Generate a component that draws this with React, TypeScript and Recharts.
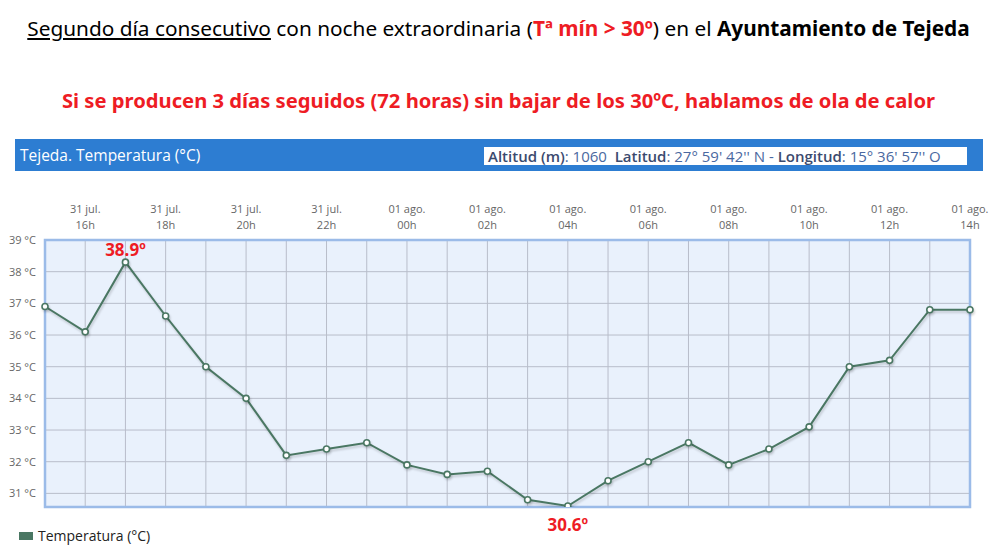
import React from 'react';
import { LineChart, Line, XAxis, YAxis, CartesianGrid, ReferenceArea, ReferenceDot } from 'recharts';

const hours = ['15h', '16h', '17h', '18h', '19h', '20h', '21h', '22h', '23h', '00h', '01h', '02h', '03h', '04h', '05h', '06h', '07h', '08h', '09h', '10h', '11h', '12h', '13h', '14h'];
const days = ['31 jul.', '31 jul.', '31 jul.', '31 jul.', '31 jul.', '31 jul.', '31 jul.', '31 jul.', '31 jul.', '01 ago.', '01 ago.', '01 ago.', '01 ago.', '01 ago.', '01 ago.', '01 ago.', '01 ago.', '01 ago.', '01 ago.', '01 ago.', '01 ago.', '01 ago.', '01 ago.', '01 ago.'];
const temps = [36.9, 36.1, 38.3, 36.6, 35.0, 34.0, 32.2, 32.4, 32.6, 31.9, 31.6, 31.7, 30.8, 30.6, 31.4, 32.0, 32.6, 31.9, 32.4, 33.1, 35.0, 35.2, 36.8, 36.8];
const yTicks = [31, 32, 33, 34, 35, 36, 37, 38, 39];
const maxNote = { hour: '17h', value: 38.3, text: '38.9º' };
const minNote = { hour: '04h', value: 30.6, text: '30.6º' };

const data = hours.map((h, i) => ({ hour: h, day: days[i], temp: temps[i] }));

const LINE = '#4a7763';
const Y_MIN = 30.57;
const Y_MAX = 39;

const HourTick = (props) => {
  const { x, y, index } = props;
  if (index % 2 === 0) return <g />;
  return (
    <g>
      <text x={x} y={y - 19} textAnchor="middle" fontSize={11} fill="#666" fontFamily="'Open Sans', sans-serif">{days[index]}</text>
      <text x={x} y={y - 3} textAnchor="middle" fontSize={11} fill="#666" fontFamily="'Open Sans', sans-serif">{hours[index]}</text>
    </g>
  );
};

export default function App() {
  return (
    <div style={{ position: 'absolute', left: 0, top: 0, width: 997, height: 551, background: '#fff', overflow: 'hidden', fontFamily: "'Noto Sans', sans-serif" }}>
      <div style={{ position: 'absolute', top: 14, left: 0, width: 997, textAlign: 'center', fontSize: 20.8, color: '#000' }}>
        <span style={{ textDecoration: 'underline' }}>Segundo día consecutivo</span> con noche extraordinaria (
        <span style={{ color: '#ee1c24', fontWeight: 'bold' }}>Tª mín &gt; 30º</span>) en el <b>Ayuntamiento de Tejeda</b>
      </div>
      <div style={{ position: 'absolute', top: 86, left: 0, width: 997, textAlign: 'center', fontSize: 20.2, color: '#ee1c24', fontWeight: 'bold' }}>
        Si se producen 3 días seguidos (72 horas) sin bajar de los 30ºC, hablamos de ola de calor
      </div>
      <div style={{ position: 'absolute', top: 139, left: 15, width: 968, height: 32, background: '#2d7dd2', fontFamily: "'Open Sans', sans-serif" }}>
        <div style={{ position: 'absolute', left: 5, top: 5, color: '#fff', fontSize: 15.5 }}>Tejeda. Temperatura (°C)</div>
        <div style={{ position: 'absolute', left: 469, top: 8, width: 483, height: 18, background: '#fff', fontSize: 15, lineHeight: '18px', color: '#4a68a0', paddingLeft: 4, boxSizing: 'border-box', whiteSpace: 'nowrap', overflow: 'hidden' }}>
          <span style={{ color: '#3b4a6e', fontWeight: 600 }}>Altitud (m)</span>: 1060 &nbsp;<span style={{ color: '#3b4a6e', fontWeight: 600 }}>Latitud</span>: 27° 59' 42'' N - <span style={{ color: '#3b4a6e', fontWeight: 600 }}>Longitud</span>: 15° 36' 57'' O
        </div>
      </div>
      <div style={{ position: 'absolute', left: 0, top: 190 }}>
        <LineChart width={997} height={361} data={data} margin={{ top: 10, right: 27, left: 0, bottom: 44 }}>
          <CartesianGrid stroke="#b8bdca" fill="#e9f1fc" />
          <XAxis dataKey="hour" orientation="top" height={40} interval={0} axisLine={false} tickLine={false} tick={<HourTick />} />
          <YAxis
            type="number"
            domain={[Y_MIN, Y_MAX]}
            ticks={yTicks}
            width={45}
            axisLine={false}
            tickLine={false}
            tickMargin={3}
            allowDataOverflow
            tickFormatter={(v) => `${v} °C`}
            tick={{ fontSize: 11, fill: '#666', fontFamily: "'Open Sans', sans-serif" }}
          />
          <ReferenceArea x1={hours[0]} x2={hours[hours.length - 1]} y1={Y_MIN} y2={Y_MAX} fill="none" stroke="#9bbbe8" strokeWidth={2.5} fillOpacity={0} />
          <Line
            type="linear"
            dataKey="temp"
            stroke={LINE}
            strokeWidth={2}
            dot={{ r: 3, fill: '#fff', stroke: LINE, strokeWidth: 1.6 }}
            activeDot={false}
            isAnimationActive={false}
            style={{ filter: 'drop-shadow(1px 2px 1px rgba(0,0,0,0.18))' }}
          />
          <ReferenceDot x={maxNote.hour} y={maxNote.value} r={0} ifOverflow="visible"
            label={{ value: maxNote.text, position: 'top', offset: 6, fill: '#ee1c24', fontSize: 17, fontWeight: 'bold', fontFamily: "'Open Sans', sans-serif" }} />
          <ReferenceDot x={minNote.hour} y={minNote.value} r={0} ifOverflow="visible"
            label={{ value: minNote.text, position: 'bottom', offset: 13, fill: '#ee1c24', fontSize: 17, fontWeight: 'bold', fontFamily: "'Open Sans', sans-serif" }} />
        </LineChart>
      </div>
      <div style={{ position: 'absolute', left: 19, top: 526, display: 'flex', alignItems: 'center', fontFamily: "'Open Sans', sans-serif", fontSize: 14, color: '#222' }}>
        <span style={{ display: 'inline-block', width: 14, height: 8, background: LINE, marginRight: 5 }} />
        Temperatura (°C)
      </div>
    </div>
  );
}
